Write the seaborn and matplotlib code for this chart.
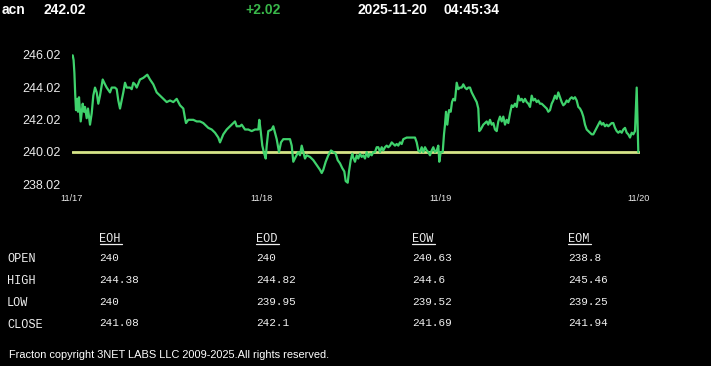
import matplotlib
matplotlib.use("Agg")
import matplotlib.pyplot as plt
from matplotlib.lines import Line2D
import seaborn as sns
import pandas as pd

# ---------------- data ----------------
symbol = "acn"
last_price = "242.02"
change = "+2.02"
stamp_date = "2025-11-20"
stamp_time = "04:45:34"
baseline = 240.02

# bar index (trading-time position), 10 values per line
t = [0.7, 1.6, 2.4, 3.2, 4.0, 5.3, 6.0, 7.0, 8.7, 10.7,
     12.0, 13.0, 14.7, 16.0, 18.0, 19.7, 21.3, 23.0, 24.7, 26.3,
     28.0, 30.7, 33.0, 34.7, 38.0, 39.7, 43.0, 44.7, 46.3, 48.0,
     49.7, 51.3, 53.0, 54.7, 58.0, 59.7, 61.3, 63.0, 64.7, 68.0,
     71.3, 75.3, 78.0, 81.3, 84.7, 88.0, 91.3, 94.7, 98.0, 101.3,
     104.7, 108.0, 111.3, 113.0, 114.0, 116.3, 121.3, 124.7, 128.0, 131.3,
     134.7, 136.3, 139.7, 143.0, 146.3, 148.0, 151.3, 154.7, 158.0, 161.3,
     163.0, 164.7, 168.0, 169.7, 173.0, 176.3, 179.7, 183.0, 186.3, 187.3,
     188.7, 190.3, 192.0, 193.7, 194.7, 196.3, 199.7, 201.3, 203.0, 204.7,
     207.0, 209.0, 211.3, 214.7, 218.0, 219.7, 221.3, 223.7, 226.3, 228.0,
     229.7, 231.3, 233.0, 234.7, 238.0, 241.3, 244.7, 248.0, 249.7, 251.3,
     253.7, 256.3, 259.0, 261.3, 263.7, 265.7, 268.0, 270.3, 272.3, 273.7,
     275.7, 277.0, 278.7, 280.3, 281.0, 283.0, 284.7, 286.3, 288.0, 289.7,
     291.3, 293.0, 294.7, 296.3, 298.0, 299.7, 301.3, 303.0, 304.7, 306.3,
     308.0, 309.7, 311.3, 313.0, 314.7, 316.3, 318.0, 319.7, 321.3, 323.0,
     324.7, 326.3, 328.0, 329.7, 331.3, 334.7, 338.0, 339.7, 341.3, 343.0,
     344.7, 346.3, 348.0, 349.7, 351.3, 353.0, 354.7, 356.3, 358.0, 359.7,
     361.3, 363.0, 364.7, 366.3, 367.3, 368.7, 370.7, 372.0, 373.0, 374.0,
     375.3, 377.0, 378.7, 380.0, 381.3, 383.0, 384.7, 386.3, 388.0, 389.7,
     391.3, 393.0, 394.7, 396.3, 398.0, 399.7, 401.3, 403.0, 404.7, 406.3,
     407.3, 408.7, 411.3, 414.7, 416.3, 418.0, 419.7, 421.3, 423.0, 424.7,
     426.3, 428.0, 429.7, 431.3, 433.0, 434.7, 436.3, 438.0, 439.7, 441.3,
     443.0, 444.7, 446.3, 448.0, 449.7, 451.3, 453.0, 454.7, 456.3, 458.0,
     459.7, 461.3, 463.0, 464.7, 466.3, 468.0, 469.7, 471.3, 473.0, 474.7,
     476.3, 478.0, 479.7, 481.3, 483.0, 484.7, 486.3, 488.0, 489.7, 491.3,
     493.0, 494.7, 496.3, 498.0, 499.7, 501.3, 503.0, 504.7, 506.3, 508.0,
     509.7, 511.3, 513.0, 514.7, 516.3, 518.0, 519.7, 521.3, 523.0, 524.7,
     526.3, 528.0, 529.7, 531.3, 533.0, 534.7, 536.3, 538.0, 539.7, 541.3,
     543.0, 544.7, 546.3, 548.0, 549.7, 551.3, 553.0, 554.7, 556.3, 558.0,
     559.7, 561.3, 563.0, 564.7, 566.3]
price = [246.0, 245.7, 244.9, 243.6, 242.6, 243.3, 242.5, 243.4, 241.9, 243.0,
         242.5, 242.8, 242.1, 242.7, 241.7, 242.4, 243.5, 244.0, 243.7, 243.0,
         243.5, 244.5, 244.2, 244.0, 243.7, 244.0, 244.0, 243.9, 243.2, 242.7,
         243.2, 243.7, 244.3, 244.0, 244.0, 243.9, 244.3, 244.2, 244.0, 244.5,
         244.6, 244.8, 244.5, 244.2, 243.7, 243.5, 243.3, 243.1, 243.2, 243.1,
         243.3, 242.9, 242.7, 242.1, 241.8, 242.0, 242.0, 241.9, 241.9, 241.8,
         241.6, 241.5, 241.4, 241.2, 240.9, 240.6, 241.1, 241.4, 241.6, 241.8,
         241.9, 241.6, 241.6, 241.7, 241.4, 241.4, 241.3, 241.4, 241.4, 242.0,
         241.3, 240.4, 239.95, 239.6, 240.4, 241.3, 241.4, 241.6, 241.2, 240.8,
         240.0, 240.6, 240.8, 240.8, 240.8, 240.4, 239.4, 239.7, 240.0, 239.8,
         240.4, 240.0, 239.6, 239.8, 239.7, 239.5, 239.2, 238.9, 238.7, 238.9,
         239.4, 239.8, 240.1, 240.0, 239.9, 239.5, 239.3, 239.0, 238.8, 238.2,
         238.1, 238.8, 239.5, 239.9, 239.7, 239.4, 239.8, 239.6, 239.9, 239.7,
         239.8, 239.6, 240.0, 239.7, 239.9, 239.8, 240.0, 240.0, 240.3, 240.3,
         240.0, 240.3, 240.1, 240.3, 240.4, 240.3, 240.4, 240.6, 240.5, 240.4,
         240.5, 240.4, 240.6, 240.5, 240.8, 240.9, 240.9, 240.9, 240.9, 240.9,
         240.6, 240.1, 240.0, 240.3, 240.0, 240.3, 240.1, 240.0, 239.8, 240.1,
         240.3, 240.0, 240.1, 240.4, 239.4, 240.0, 240.0, 241.1, 241.7, 242.5,
         241.7, 242.6, 242.5, 243.1, 243.3, 243.2, 244.3, 243.9, 244.0, 244.0,
         244.2, 244.0, 243.9, 244.0, 244.0, 243.7, 243.5, 243.3, 243.1, 242.7,
         241.3, 241.4, 241.7, 241.9, 241.7, 242.0, 241.7, 241.8, 241.4, 241.3,
         241.9, 242.2, 241.9, 242.2, 241.7, 242.0, 241.8, 242.4, 242.9, 242.8,
         243.0, 242.8, 243.5, 243.2, 243.3, 243.1, 243.3, 243.1, 243.0, 242.8,
         243.5, 243.2, 243.3, 243.1, 243.2, 243.0, 243.0, 242.9, 242.8, 242.7,
         242.5, 242.6, 243.0, 243.2, 243.5, 243.3, 243.7, 243.4, 243.1, 242.9,
         243.0, 243.2, 243.1, 243.3, 243.4, 243.3, 243.4, 243.2, 242.8, 242.7,
         242.5, 242.2, 241.7, 241.4, 241.3, 241.2, 241.1, 241.1, 241.3, 241.5,
         241.7, 241.9, 241.7, 241.8, 241.6, 241.7, 241.6, 241.7, 241.8, 241.8,
         241.5, 241.3, 241.2, 241.3, 241.2, 241.4, 241.5, 241.2, 241.1, 240.9,
         241.2, 241.1, 241.3, 244.0, 240.0]

tick_pos = [0, 189, 368.5, 567]
tick_labels = ["11/17", "11/18", "11/19", "11/20"]
y_ticks = [238.02, 240.02, 242.02, 244.02, 246.02]

row_labels = ["OPEN", "HIGH", "LOW", "CLOSE"]
col_headers = ["EOH", "EOD", "EOW", "EOM"]
eoh_vals = ["240", "244.38", "240", "241.08"]
eod_vals = ["240", "244.82", "239.95", "242.1"]
eow_vals = ["240.63", "244.6", "239.52", "241.69"]
eom_vals = ["238.8", "245.46", "239.25", "241.94"]
footer = "Fracton copyright 3NET LABS LLC 2009-2025.All rights reserved."

# ---------------- figure ----------------
W, H = 711, 366
sns.set_style("dark")
plt.rcParams["font.family"] = ["Liberation Sans", "DejaVu Sans"]

fig = plt.figure(figsize=(W / 100, H / 100), dpi=100, facecolor="black")


def fx(px):
    return px / W


def fy(py):
    return 1 - py / H


ax = fig.add_axes([fx(72), fy(188), fx(640) - fx(72), fy(45) - fy(188)])
ax.set_facecolor("black")

df = pd.DataFrame({"t": t, "price": price})
ax.axhline(baseline, color="#d6e487", lw=2.0, zorder=1)
sns.lineplot(data=df, x="t", y="price", ax=ax, color="#3fd26c", lw=1.6,
             estimator=None, sort=False, zorder=2)

ax.set_xlim(0, 568)
ax.set_ylim(237.772, 246.64)
ax.set_xlabel("")
ax.set_ylabel("")
ax.grid(False)
for s in ax.spines.values():
    s.set_visible(False)

ax.set_yticks(y_ticks)
ax.set_yticklabels([f"{v:.2f}" for v in y_ticks])
ax.tick_params(axis="y", length=0, pad=8, labelsize=9, labelcolor="#ececec")
ax.set_xticks(tick_pos)
ax.set_xticklabels(tick_labels)
ax.tick_params(axis="x", direction="in", length=2.5, width=0.8, color="white",
               pad=4.5, labelsize=6.6, labelcolor="#e8e8e8")
ax.xaxis.get_major_ticks()[-1].tick1line.set_visible(False)

# ---------------- header ----------------
hdr = dict(fontsize=10, fontweight="bold", va="center", ha="left",
           family=["Liberation Sans", "DejaVu Sans"])
fig.text(fx(2), fy(9.5), symbol, color="white", **hdr)
fig.text(fx(44), fy(9.5), last_price, color="white", **hdr)
fig.text(fx(245), fy(9.5), change, color="#39b84a", **hdr)
fig.text(fx(357), fy(9.5), stamp_date, color="white", **hdr)
fig.text(fx(443.5), fy(9.5), stamp_time, color="white", **hdr)

# ---------------- table ----------------
mono = ["Liberation Mono", "DejaVu Sans Mono"]
col_x = [99.5, 256, 412, 568]
row_y = [259.5, 281.5, 303, 325]
val_y = [258, 280, 302, 323.5]
columns = [eoh_vals, eod_vals, eow_vals, eom_vals]

for lbl, yy in zip(row_labels, row_y):
    fig.text(fx(7), fy(yy), lbl, color="#f0f0f0", fontsize=8.6, family=mono,
             va="center", ha="left")

for hdr_txt, cx, vals in zip(col_headers, col_x, columns):
    fig.text(fx(cx), fy(239), hdr_txt, color="#f0f0f0", fontsize=8.6, family=mono,
             va="center", ha="left")
    fig.add_artist(Line2D([fx(cx), fx(cx + 22.5)], [fy(243.5), fy(243.5)],
                          color="#f0f0f0", lw=0.9, transform=fig.transFigure))
    for v, yy in zip(vals, val_y):
        fig.text(fx(cx), fy(yy), v, color="#f0f0f0", fontsize=7.9, family=mono,
                 va="center", ha="left")

fig.text(fx(9), fy(355), footer, color="white", fontsize=7.9,
         family=["Liberation Sans", "DejaVu Sans"], va="center", ha="left")

fig.savefig("out.png", dpi=100, facecolor="black")
